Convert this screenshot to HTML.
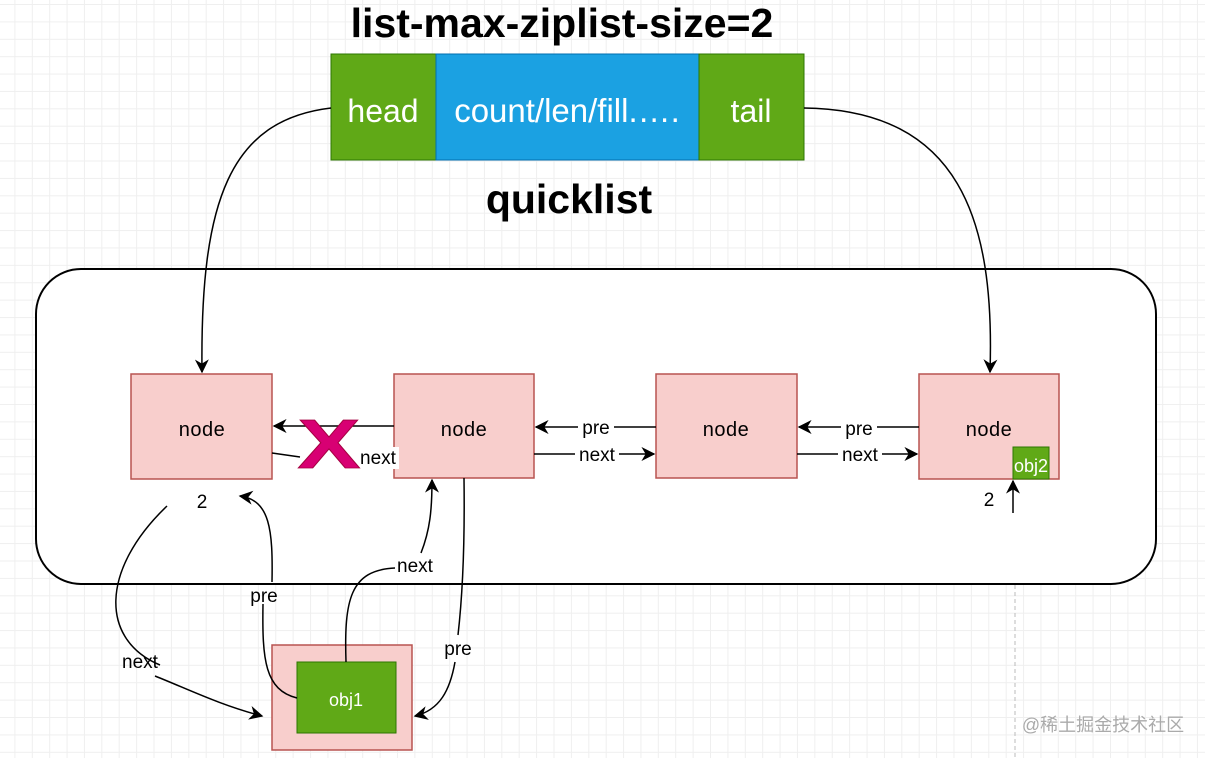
<!DOCTYPE html>
<html><head><meta charset="utf-8"><style>
html,body{margin:0;padding:0;}
body{width:1205px;height:758px;overflow:hidden;background:#fff;
background-image:linear-gradient(#efefef 1px,transparent 1px),linear-gradient(90deg,#efefef 1px,transparent 1px);
background-size:17.4px 17.4px;background-position:-3px 4px;}
svg{position:absolute;left:0;top:0;}
text{font-family:"Liberation Sans",sans-serif;}
</style></head><body>
<svg width="1205" height="758" viewBox="0 0 1205 758">
<defs>
<marker id="a" viewBox="0 0 10 10" refX="9" refY="5" markerWidth="14" markerHeight="14" orient="auto" markerUnits="userSpaceOnUse">
<path d="M0,0 L10,5 L0,10 L3,5 Z" fill="#000"/></marker>
</defs>
<text x="562" y="37" font-size="41" font-weight="bold" text-anchor="middle">list-max-ziplist-size=2</text>
<rect x="331" y="54" width="105" height="106" fill="#60a917" stroke="#2d7600"/>
<rect x="436" y="54" width="263" height="106" fill="#1ba1e2" stroke="#006eaf"/>
<rect x="699" y="54" width="105" height="106" fill="#60a917" stroke="#2d7600"/>
<text x="383" y="122" font-size="32" fill="#fff" text-anchor="middle">head</text>
<text x="567" y="122" font-size="33" fill="#fff" text-anchor="middle">count/len/fill.….</text>
<text x="751" y="122" font-size="32" fill="#fff" text-anchor="middle">tail</text>
<text x="569" y="213" font-size="41" font-weight="bold" text-anchor="middle">quicklist</text>
<rect x="36" y="269" width="1120" height="315" rx="45" fill="#fff" stroke="#000" stroke-width="2"/>
<line x1="1015" y1="585" x2="1015" y2="758" stroke="#bbb" stroke-dasharray="4,3"/>
<path d="M331,108 C230,120 200,200 202,372" fill="none" stroke="#000" stroke-width="1.5" marker-end="url(#a)"/>
<path d="M804,108 C960,110 995,220 990,372" fill="none" stroke="#000" stroke-width="1.5" marker-end="url(#a)"/>
<g fill="#f8cecc" stroke="#b85450" stroke-width="1.5">
<rect x="131" y="374" width="141" height="105"/>
<rect x="394" y="374" width="140" height="104"/>
<rect x="656" y="374" width="141" height="104"/>
<rect x="919" y="374" width="140" height="105"/>
<rect x="272" y="645" width="140" height="105"/>
</g>
<g font-size="20" text-anchor="middle" letter-spacing="0.5">
<text x="202" y="436">node</text><text x="464" y="436">node</text>
<text x="726" y="436">node</text><text x="989" y="436">node</text>
</g>
<rect x="1013" y="447" width="36" height="32" fill="#60a917" stroke="#2d7600"/>
<text x="1031" y="472" font-size="18" fill="#fff" text-anchor="middle">obj2</text>
<rect x="297" y="662" width="99" height="71" fill="#60a917" stroke="#2d7600"/>
<text x="346" y="706" font-size="18" fill="#fff" text-anchor="middle">obj1</text>
<g fill="none" stroke="#000" stroke-width="1.5">
<line x1="394" y1="426" x2="274" y2="426" marker-end="url(#a)"/>
<line x1="272" y1="453" x2="300" y2="457"/>
<line x1="656" y1="427" x2="536" y2="427" marker-end="url(#a)"/>
<line x1="534" y1="454" x2="654" y2="454" marker-end="url(#a)"/>
<line x1="919" y1="427" x2="799" y2="427" marker-end="url(#a)"/>
<line x1="797" y1="454" x2="917" y2="454" marker-end="url(#a)"/>
<line x1="1013" y1="513" x2="1013" y2="481" marker-end="url(#a)"/>
<path d="M167,506 C100,570 100,640 160,665" />
<path d="M155,676 C190,690 220,705 262,716" marker-end="url(#a)"/>
<path d="M297,698 C265,690 262,660 263,604"/>
<path d="M272,582 C273,530 270,500 240,496" marker-end="url(#a)"/>
<path d="M346,662 C344,600 350,570 395,568"/>
<path d="M421,553 C430,530 432,510 432,480" marker-end="url(#a)"/>
<path d="M464,478 C465,550 462,600 458,635"/>
<path d="M455,662 C450,690 440,710 415,716" marker-end="url(#a)"/>
</g>
<g font-size="19" text-anchor="middle">
<rect x="578" y="418" width="36" height="18" fill="#fff"/><text x="596" y="434">pre</text>
<rect x="575" y="445" width="44" height="18" fill="#fff"/><text x="597" y="461">next</text>
<rect x="841" y="418" width="36" height="18" fill="#fff"/><text x="859" y="435">pre</text>
<rect x="838" y="446" width="44" height="18" fill="#fff"/><text x="860" y="461">next</text>
<rect x="357" y="447" width="42" height="22" fill="#fff"/><text x="378" y="464">next</text>
<text x="202" y="508">2</text>
<text x="989" y="506">2</text>
<text x="264" y="602">pre</text>
<text x="415" y="572">next</text>
<text x="458" y="655">pre</text>
<text x="140" y="668">next</text>
</g>
<text x="329" y="472" font-size="82" font-weight="bold" fill="#d80073" stroke="#a50040" stroke-width="1" text-anchor="middle" transform="translate(329,444) scale(1.15,0.85) translate(-329,-444)">X</text>
<text x="1103" y="731" font-size="18" fill="#aaa" font-family="Liberation Sans,Noto Sans CJK SC,sans-serif" text-anchor="middle">@稀土掘金技术社区</text>
</svg>
</body></html>
